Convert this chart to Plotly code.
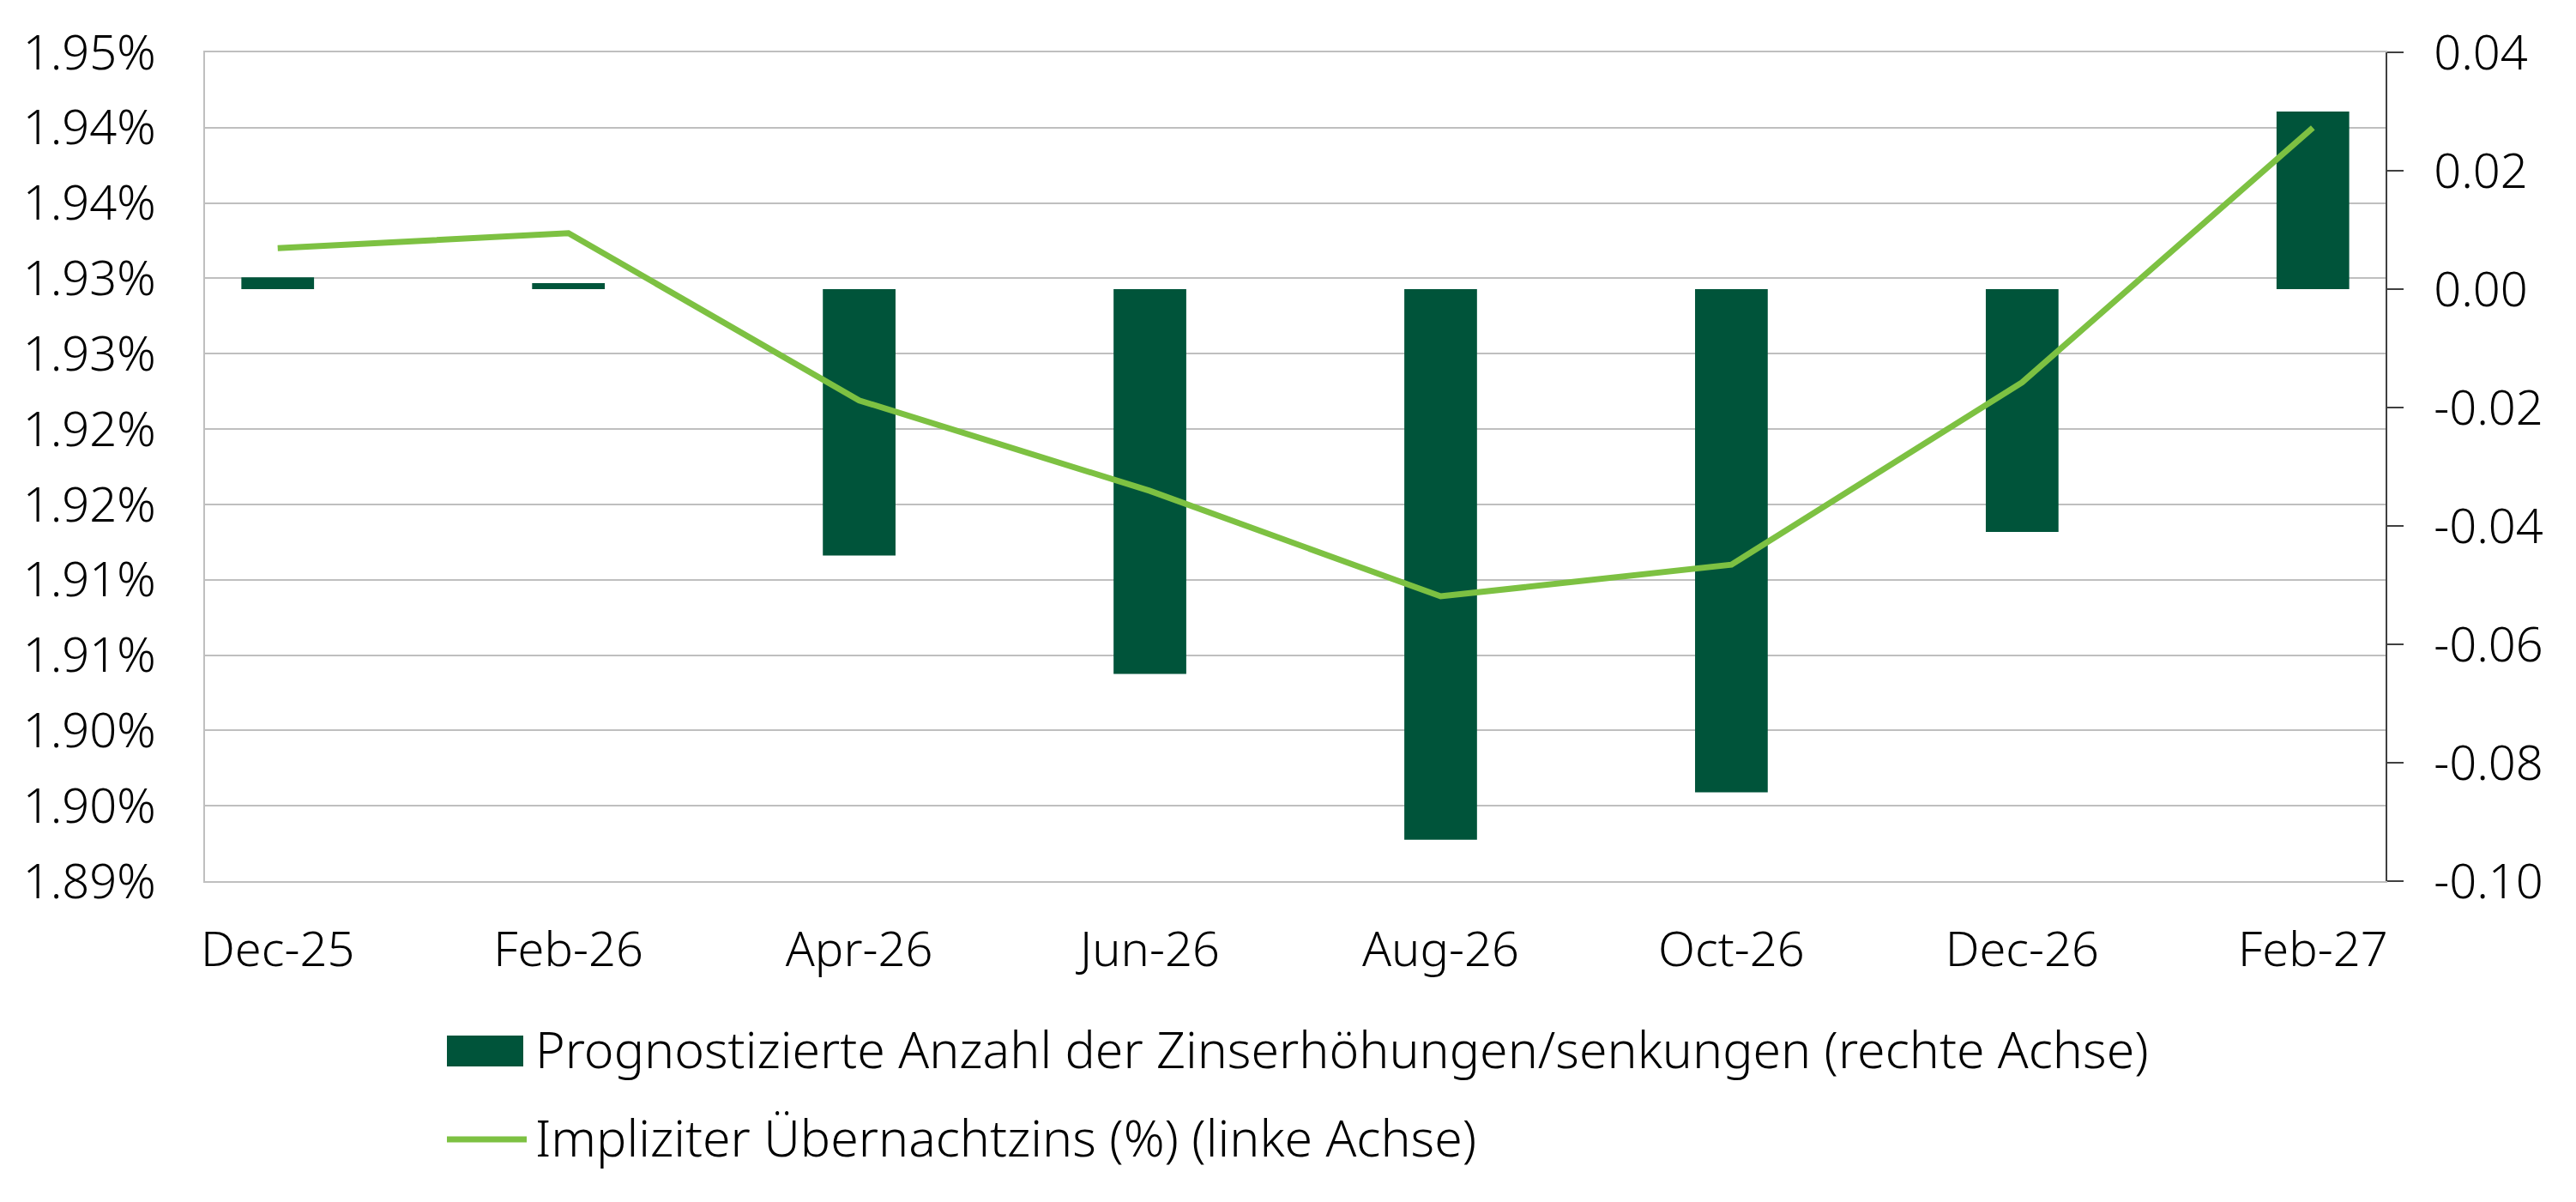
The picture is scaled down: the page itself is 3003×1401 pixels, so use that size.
import plotly.graph_objects as go

months = ["Dec-25", "Feb-26", "Apr-26", "Jun-26", "Aug-26", "Oct-26", "Dec-26", "Feb-27"]
# right axis: projected number of hikes/cuts
hikes = [0.002, 0.001, -0.045, -0.065, -0.093, -0.085, -0.041, 0.030]
# left axis: implied overnight rate (%)
rate = [1.9345, 1.9355, 1.9244, 1.9184, 1.9114, 1.9135, 1.9256, 1.9425]

left_tickvals = [1.8925, 1.8975, 1.9025, 1.9075, 1.9125, 1.9175, 1.9225, 1.9275, 1.9325, 1.9375, 1.9425, 1.9475]
left_ticktext = ["1.89%", "1.90%", "1.90%", "1.91%", "1.91%", "1.92%", "1.92%", "1.93%", "1.93%", "1.94%", "1.94%", "1.95%"]
right_tickvals = [-0.10, -0.08, -0.06, -0.04, -0.02, 0.00, 0.02, 0.04]
right_ticktext = ["-0.10", "-0.08", "-0.06", "-0.04", "-0.02", "0.00", "0.02", "0.04"]

bar_name = "Prognostizierte Anzahl der Zinserhöhungen/senkungen (rechte Achse)"
line_name = "Impliziter Übernachtzins (%) (linke Achse)"

DARK = "#00543A"
LIGHT = "#7DC142"
GRID = "#BFBFBF"
FONT = "Noto Sans"

left_range = [1.8925, 1.9475]
right_range = [-0.10, 0.04]

# page body has an 8px margin, so the figure is a bit smaller and offset
OFF = 8
W, H = 3003 - OFF, 1401 - OFF
L, R, T, B = 231, 222, 53, 374
pw, ph = W - L - R, H - T - B

def px(x):  # screen pixel -> paper x
    return (x - OFF - L) / pw

def py(y):  # screen pixel -> paper y
    return (OFF + H - B - y) / ph

# gridlines sit at the left-axis ticks, drawn on the bar axis so they stay behind the bars
grid_on_right = [right_range[0] + (v - left_range[0]) / (left_range[1] - left_range[0]) * (right_range[1] - right_range[0])
                 for v in left_tickvals]

fig = go.Figure()
fig.add_trace(go.Bar(x=months, y=hikes, yaxis="y", width=0.25,
                     marker=dict(color=DARK, line=dict(width=0)), name=bar_name))
fig.add_trace(go.Scatter(x=months, y=rate, yaxis="y2", mode="lines",
                         line=dict(color=LIGHT, width=7), name=line_name))

tick_font = dict(family=FONT, size=56, weight=300)
legend_font = dict(family=FONT, size=59, weight=300)

fig.update_layout(
    width=W, height=H,
    margin=dict(l=L, r=R, t=T, b=B),
    plot_bgcolor="white", paper_bgcolor="white",
    showlegend=False,
    font=dict(family=FONT, size=56, color="black", weight=300),
    xaxis=dict(type="category", range=[-0.25, 7.25], showgrid=False,
               showline=True, linecolor=GRID, linewidth=2, mirror=True,
               ticks="", ticklabelstandoff=30, tickfont=tick_font),
    yaxis=dict(range=right_range, tickvals=right_tickvals, ticktext=right_ticktext,
               side="right", showgrid=False, zeroline=False,
               showline=True, linecolor="#404040", linewidth=2,
               ticks="outside", ticklen=19, tickwidth=2, tickcolor="#404040",
               ticklabelstandoff=24, tickfont=tick_font,
               minor=dict(tickvals=grid_on_right, showgrid=True, gridcolor=GRID,
                          gridwidth=2, ticks="")),
    yaxis2=dict(range=left_range, tickvals=left_tickvals, ticktext=left_ticktext,
                overlaying="y", side="left", showgrid=False, zeroline=False,
                showline=True, linecolor=GRID, linewidth=2,
                ticks="", ticklabelstandoff=44, tickfont=tick_font),
)

# legend drawn below the plot
fig.add_shape(type="rect", xref="paper", yref="paper",
              x0=px(521), x1=px(610), y0=py(1243), y1=py(1207),
              fillcolor=DARK, line=dict(width=0))
fig.add_shape(type="line", xref="paper", yref="paper",
              x0=px(521), x1=px(614), y0=py(1328), y1=py(1328),
              line=dict(color=LIGHT, width=7))
fig.add_annotation(xref="paper", yref="paper", x=px(622), y=py(1222),
                   xanchor="left", yanchor="middle", showarrow=False,
                   text=bar_name, font=legend_font)
fig.add_annotation(xref="paper", yref="paper", x=px(622), y=py(1325),
                   xanchor="left", yanchor="middle", showarrow=False,
                   text=line_name, font=legend_font)

fig.write_html("out.html")
